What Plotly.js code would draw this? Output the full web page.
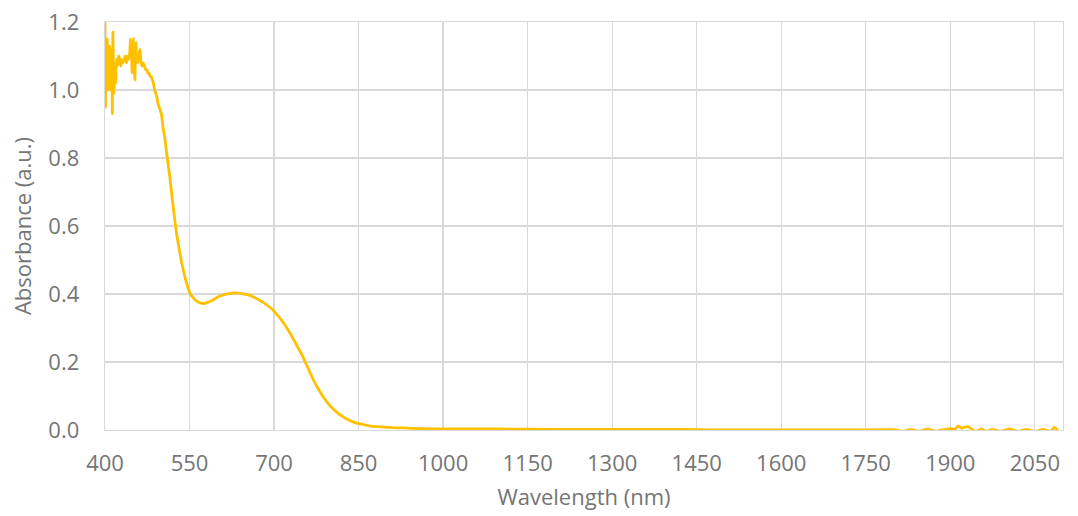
<!DOCTYPE html>
<html>
<head>
<meta charset="utf-8">
<script src="https://cdn.plot.ly/plotly-3.0.1.min.js"></script>
<style>html,body{margin:0;padding:0;background:#fff;}#chart{width:1078px;height:516px;}</style>
</head>
<body>
<div id="chart"></div>
<script>
// Wavelength (nm)
const wavelength = [
  400,401,402,403,404,405,406,407,408,409,410,411,412,413,414,415,416,417,418,419,
  420,422,424,426,428,430,432,434,436,438,440,442,444,445,446,447,448,449,450,451,
  452,453,454,455,456,458,460,462,464,466,468,470,472,474,476,478,480,482,484,486,
  488,490,492,494,496,498,500,503,506,509,512,515,518,521,524,527,530,533,536,539,
  543,547,551,556,561,566,571,576,580,586,592,600,610,620,630,640,650,657,665,672,
  680,690,698,706,713,722,730,740,751,760,769,778,787,798,810,825,840,855,869,890,
  910,930,960,990,1050,1100,1200,1300,1400,1450,1500,1600,1700,1800,1815,1830,1845,1860,1875,1890,
  1900,1908,1914,1920,1926,1931,1937,1945,1955,1965,1975,1990,2005,2020,2035,2050,2065,2078,2085,2092
];
// Absorbance (a.u.)
const absorbance = [
  1.20,0.95,1.12,1.05,1.15,1.00,1.10,1.06,1.13,1.00,1.12,1.04,1.10,0.93,1.17,1.06,0.99,1.08,1.05,1.02,
  1.09,1.07,1.10,1.09,1.07,1.09,1.08,1.09,1.10,1.08,1.10,1.09,1.11,1.15,1.10,1.12,1.05,1.08,1.15,1.10,
  1.06,1.03,1.10,1.14,1.09,1.08,1.10,1.12,1.08,1.07,1.08,1.07,1.06,1.06,1.05,1.05,1.04,1.04,1.03,1.02,
  1.00,0.99,0.98,0.96,0.95,0.94,0.93,0.89,0.86,0.82,0.78,0.745,0.70,0.657,0.615,0.578,0.548,0.52,0.492,0.47,
  0.442,0.42,0.402,0.39,0.381,0.376,0.373,0.372,0.374,0.378,0.383,0.391,0.397,0.401,0.403,0.402,0.399,0.396,0.390,0.384,
  0.376,0.364,0.353,0.338,0.324,0.302,0.280,0.250,0.216,0.183,0.150,0.122,0.098,0.074,0.054,0.036,0.024,0.017,0.012,0.009,
  0.007,0.006,0.004,0.003,0.003,0.003,0.002,0.002,0.002,0.001,0.000,0.000,0.000,0.001,-0.004,0.002,-0.004,0.003,-0.004,0.002,
  0.004,0.002,0.012,0.005,0.009,0.010,0.004,-0.004,0.003,-0.004,0.002,-0.004,0.003,-0.004,0.002,-0.004,0.002,-0.004,0.008,-0.004
];
const xTicks = [400,550,700,850,1000,1150,1300,1450,1600,1750,1900,2050];
const yTicks = [0,0.2,0.4,0.6,0.8,1.0,1.2];

const fontFam = '"Open Sans", "Noto Sans", sans-serif';
const grey = '#757575';
const grid = '#d9d9d9';

Plotly.newPlot('chart', [{
  x: wavelength, y: absorbance, type: 'scatter', mode: 'lines',
  line: {color: '#FFC000', width: 2.8, shape: 'spline', smoothing: 0.3}, hoverinfo: 'skip'
}], {
  width: 1078, height: 516,
  margin: {l: 105, r: 15, t: 22, b: 86},
  paper_bgcolor: '#fff', plot_bgcolor: '#fff',
  showlegend: false,
  font: {family: fontFam, color: grey, size: 22},
  xaxis: {
    range: [400, 2100], tickvals: xTicks, ticktext: xTicks.map(String),
    showgrid: true, gridcolor: grid, gridwidth: 1.3,
    showline: true, mirror: true, linecolor: grid, linewidth: 1.3,
    zeroline: false, ticks: '', ticklabelstandoff: 13,
    tickfont: {family: fontFam, size: 22, color: grey},
    title: {text: 'Wavelength (nm)', font: {family: fontFam, size: 22, color: grey}, standoff: 14},
    automargin: false
  },
  yaxis: {
    range: [0, 1.2], tickvals: yTicks, ticktext: yTicks.map(v => v.toFixed(1)),
    showgrid: true, gridcolor: grid, gridwidth: 1.3,
    showline: true, mirror: true, linecolor: grid, linewidth: 1.3,
    zeroline: false, ticks: '', ticklabelstandoff: 20,
    tickfont: {family: fontFam, size: 22, color: grey},
    title: {text: 'Absorbance (a.u.)', font: {family: fontFam, size: 22, color: grey}, standoff: 10},
    automargin: false
  }
}, {displayModeBar: false, staticPlot: true});
</script>
</body>
</html>
